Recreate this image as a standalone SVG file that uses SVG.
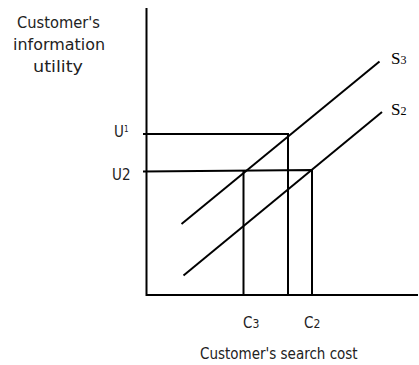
<svg xmlns="http://www.w3.org/2000/svg" width="419" height="365" viewBox="0 0 419 365">
<style>
.ln{stroke:#000;stroke-width:2;fill:none}
.t{font-family:"DejaVu Sans Condensed","DejaVu Sans",sans-serif;font-size:15px;fill:#222}
.s{font-family:"Liberation Serif",serif;font-size:17px;fill:#000}
</style>
<rect width="419" height="365" fill="#fff"/>
<g id="connectors">
<path class="ln" d="M146.5 8V295H418"/>
<path class="ln" d="M143 134H288V295"/>
<path class="ln" d="M143 171.5L312 170V295"/>
<path class="ln" d="M243.5 171V295"/>
<path class="ln" d="M181.5 224L379.5 61.5"/>
<path class="ln" d="M183.5 275.5L382 112"/>
</g>
<g id="yaxis-label"><text class="t"><tspan x="17" y="28" textLength="83" lengthAdjust="spacingAndGlyphs">Customer's</tspan><tspan x="13" y="50" textLength="92" lengthAdjust="spacingAndGlyphs">information</tspan><tspan x="33" y="72" textLength="50" lengthAdjust="spacingAndGlyphs">utility</tspan></text></g>
<g id="xaxis-label"><text class="t" x="200" y="359">Customer's search cost</text></g>
<g id="u1"><text class="t" x="114" y="137">U<tspan font-size="8" dy="-5">1</tspan></text></g>
<g id="u2"><text class="t" x="112" y="180">U2</text></g>
<g id="s3"><text class="s" x="391" y="64">S<tspan font-size="12">3</tspan></text></g>
<g id="s2"><text class="s" x="391" y="115">S<tspan font-size="12">2</tspan></text></g>
<g id="c3"><text class="t" x="243" y="328">C<tspan font-size="12">3</tspan></text></g>
<g id="c2"><text class="t" x="304" y="328">C<tspan font-size="12">2</tspan></text></g>
</svg>
